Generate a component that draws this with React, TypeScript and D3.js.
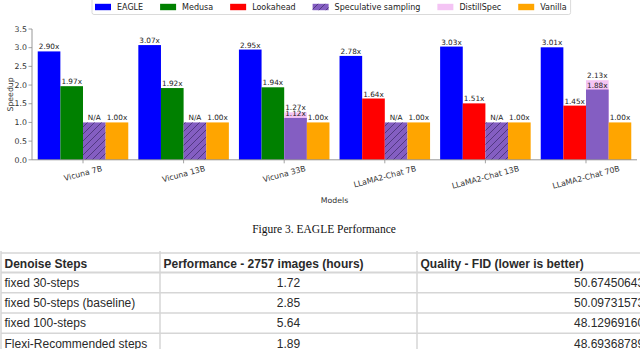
import React from "react";
import * as d3 from "d3";

// ---------- chart data ----------
const models = ["Vicuna 7B", "Vicuna 13B", "Vicuna 33B", "LLaMA2-Chat 7B", "LLaMA2-Chat 13B", "LLaMA2-Chat 70B"];
const eagle = [2.9, 3.07, 2.95, 2.78, 3.03, 3.01];
const medusa: (number | null)[] = [1.97, 1.92, 1.94, null, null, null];
const lookahead: (number | null)[] = [null, null, null, 1.64, 1.51, 1.45];
const specSampling: (number | null)[] = [null, null, 1.12, null, null, 1.88]; // null -> N/A
const distillSpec: (number | null)[] = [null, null, 1.27, null, null, 2.13];
const vanilla = [1.0, 1.0, 1.0, 1.0, 1.0, 1.0];
const naValue = 1.0;
const yTicks = [0, 0.5, 1.0, 1.5, 2.0, 2.5, 3.0, 3.5];

const legendNames = ["EAGLE", "Medusa", "Lookahead", "Speculative sampling", "DistillSpec", "Vanilla"];
const colors: Record<string, string> = {
  EAGLE: "#0000ff",
  Medusa: "#008000",
  Lookahead: "#ff0000",
  "Speculative sampling": "#845ec2",
  DistillSpec: "#f4c4f4",
  Vanilla: "#ffa500",
};

// ---------- table data ----------
const tableHeaders = ["Denoise Steps", "Performance - 2757 images (hours)", "Quality - FID (lower is better)"];
const tableSteps = ["fixed 30-steps", "fixed 50-steps (baseline)", "fixed 100-steps", "Flexi-Recommended steps"];
const tableHours = ["1.72", "2.85", "5.64", "1.89"];
const tableFid = ["50.67450643", "50.09731573", "48.12969160", "48.69368789"];

const W = 640;
const H = 349;

function measure(text: string, font: string): number {
  const c = document.createElement("canvas").getContext("2d");
  if (!c) return text.length * 5;
  c.font = font;
  return c.measureText(text).width;
}

export default function App() {
  const x = d3.scaleLinear().domain([-0.507, 5.507]).range([32, 637]);
  const y = d3.scaleLinear().domain([0, 3.5]).range([159.8, 29]);
  const bw = 0.225;
  const px = (v: number) => x(v) - x(0);
  const barW = px(bw);
  const slotX = (i: number, slot: number) => x(i + (slot - 2) * bw);

  const tickFont = "DejaVu Sans, sans-serif";
  const labelSize = 7.3;
  const tickSize = 7.8;

  const bars: React.ReactNode[] = [];
  const labels: React.ReactNode[] = [];
  const addBar = (key: string, i: number, slot: number, v: number, color: string, text: string, hatch = false) => {
    const x0 = slotX(i, slot);
    bars.push(
      <rect key={key} x={x0} y={y(v)} width={barW} height={y(0) - y(v)} fill={color} />
    );
    if (hatch) {
      bars.push(
        <rect key={key + "h"} x={x0} y={y(v)} width={barW} height={y(0) - y(v)} fill="url(#hatch)" />
      );
    }
    labels.push(
      <text key={key + "l"} x={x0 + barW / 2} y={y(v) - 2} textAnchor="middle" fontSize={labelSize} fill="#222" fontFamily={tickFont}>
        {text}
      </text>
    );
  };

  models.forEach((_, i) => {
    addBar("e" + i, i, 0, eagle[i], colors.EAGLE, eagle[i].toFixed(2) + "x");
    const m = medusa[i];
    if (m != null) addBar("m" + i, i, 1, m, colors.Medusa, m.toFixed(2) + "x");
    const l = lookahead[i];
    if (l != null) addBar("la" + i, i, 1, l, colors.Lookahead, l.toFixed(2) + "x");
    const d = distillSpec[i];
    if (d != null) addBar("d" + i, i, 2, d, colors.DistillSpec, d.toFixed(2) + "x");
    const s = specSampling[i];
    if (s != null) addBar("s" + i, i, 2, s, colors["Speculative sampling"], s.toFixed(2) + "x");
    else addBar("s" + i, i, 2, naValue, colors["Speculative sampling"], "N/A", true);
    addBar("v" + i, i, 3, vanilla[i], colors.Vanilla, vanilla[i].toFixed(2) + "x");
  });

  // legend layout
  const legendFont = 8;
  const legendItems: React.ReactNode[] = [];
  let lx = 95;
  legendNames.forEach((name) => {
    const tw = measure(name, `${legendFont}px DejaVu Sans`);
    legendItems.push(
      <g key={name}>
        <rect x={lx} y={3.8} width={16} height={6.4} fill={colors[name]} />
        {name === "Speculative sampling" && <rect x={lx} y={3.8} width={16} height={6.4} fill="url(#hatch)" />}
        <text x={lx + 22} y={9.8} fontSize={legendFont} fontFamily={tickFont} fill="#222">
          {name}
        </text>
      </g>
    );
    lx += 22 + tw + 17;
  });
  const legendRight = lx - 17 + 4;

  // table layout
  const colX = [1, 160, 417, 660];
  const rowY = [253, 272.5, 292.8, 313, 333.3, 353.6];
  const tFont = "Liberation Sans, Arial, sans-serif";

  return (
    <svg width={W} height={H} style={{ position: "absolute", left: 0, top: 0, background: "#fff" }}>
      <defs>
        <pattern id="hatch" patternUnits="userSpaceOnUse" width={7} height={7}>
          <path d="M-1,1 l2,-2 M0,7 l7,-7 M6,8 l2,-2" stroke="#3b2866" strokeWidth={0.7} />
        </pattern>
      </defs>
      <rect x={0} y={0} width={W} height={H} fill="#fff" />

      {/* legend */}
      <rect x={92} y={-2} width={legendRight - 92} height={16.5} fill="#fff" stroke="#d0d0d0" strokeWidth={0.8} rx={2} />
      {legendItems}

      {/* bars */}
      {bars}
      {labels}

      {/* axes */}
      <line x1={32} x2={32} y1={y(0)} y2={y(3.5)} stroke="#8c8c8c" strokeWidth={0.9} />
      <line x1={32} x2={637} y1={y(0)} y2={y(0)} stroke="#8c8c8c" strokeWidth={0.9} />
      {yTicks.map((t) => (
        <g key={"yt" + t}>
          <line x1={28.5} x2={32} y1={y(t)} y2={y(t)} stroke="#8c8c8c" strokeWidth={0.8} />
          <text x={27} y={y(t)} dy="0.35em" textAnchor="end" fontSize={tickSize} fontFamily={tickFont} fill="#333">
            {t.toFixed(1)}
          </text>
        </g>
      ))}
      {models.map((m, i) => {
        const tw = measure(m, `${tickSize}px DejaVu Sans`);
        const cy = 164.5 + (tw * Math.sin((15 * Math.PI) / 180) + tickSize * Math.cos((15 * Math.PI) / 180)) / 2;
        return (
          <g key={"xt" + m}>
            <line x1={x(i)} x2={x(i)} y1={y(0)} y2={y(0) + 3.5} stroke="#8c8c8c" strokeWidth={0.8} />
            <text
              transform={`translate(${x(i)},${cy}) rotate(-15)`}
              textAnchor="middle"
              dy="0.35em"
              fontSize={tickSize}
              fontFamily={tickFont}
              fill="#333"
            >
              {m}
            </text>
          </g>
        );
      })}
      <text transform={`translate(10.5,${(y(0) + y(3.5)) / 2}) rotate(-90)`} textAnchor="middle" dy="0.35em" fontSize={tickSize} fontFamily={tickFont} fill="#333">
        Speedup
      </text>
      <text x={334.5} y={200} textAnchor="middle" dy="0.35em" fontSize={tickSize} fontFamily={tickFont} fill="#333">
        Models
      </text>

      {/* caption */}
      <text x={324} y={233} textAnchor="middle" fontSize={11.5} fontFamily="Liberation Serif, Times New Roman, serif" fill="#111">
        Figure 3. EAGLE Performance
      </text>

      {/* table */}
      {rowY.map((ry, r) => (
        <line key={"row" + r} x1={colX[0]} x2={W} y1={ry} y2={ry} stroke="#d6d6d6" strokeWidth={r === 1 ? 2 : 1.5} />
      ))}
      {colX.slice(0, 3).map((cx, c) => (
        <line key={"col" + c} x1={cx} x2={cx} y1={rowY[0] - 2} y2={H} stroke="#d6d6d6" strokeWidth={1.5} />
      ))}
      {tableHeaders.map((h, c) => (
        <text key={"h" + c} x={colX[c] + 3.5} y={267.5} fontSize={12} fontWeight="bold" fontFamily={tFont} fill="#2a2a2a">
          {h}
        </text>
      ))}
      {tableSteps.map((s, r) => {
        const by = (rowY[r + 1] + rowY[r + 2]) / 2 + 4.2;
        return (
          <g key={"tr" + r}>
            <text x={colX[0] + 3.5} y={by} fontSize={12} fontFamily={tFont} fill="#2a2a2a">
              {s}
            </text>
            <text x={(colX[1] + colX[2]) / 2} y={by} textAnchor="middle" fontSize={12} fontFamily={tFont} fill="#2a2a2a">
              {tableHours[r]}
            </text>
            <text x={574} y={by} fontSize={12} fontFamily={tFont} fill="#2a2a2a">
              {tableFid[r]}
            </text>
          </g>
        );
      })}
    </svg>
  );
}
